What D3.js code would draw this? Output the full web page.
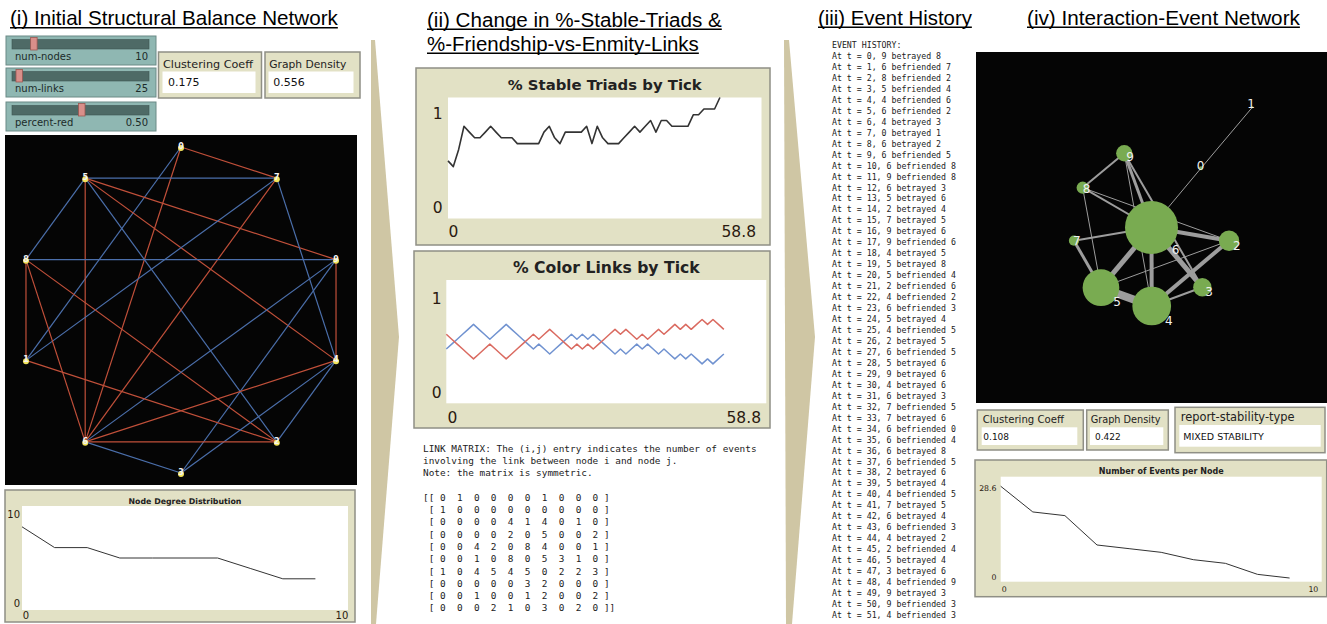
<!DOCTYPE html>
<html><head><meta charset="utf-8">
<script src="https://cdn.jsdelivr.net/npm/d3@7"></script>
<style>body{margin:0;background:#fff} svg{display:block}</style>
</head><body><svg id="c" width="1327" height="624"></svg>
<script>
// ---------------- DATA ----------------
const panelTitles = ['(i) Initial Structural Balance Network', '(ii) Change in %-Stable-Triads &', '%-Friendship-vs-Enmity-Links', '(iii) Event History', '(iv) Interaction-Event Network'];
const nodeIds = [0,1,2,3,4,5,6,7,8,9];
const circleOrder = [0,7,9,4,2,3,6,1,8,5];
const linkA =    [0,0,0,5,5,5,5,4,2,6,4,1,8,1,6,2,4,6,3,1,4,3,2,2,3];
const linkB =    [7,1,6,7,8,6,9,5,5,7,7,7,9,8,8,8,9,9,9,2,6,4,4,6,6];
const linkSign = ['R','B','R','B','B','R','R','R','B','R','B','B','B','R','R','R','R','B','B','R','R','B','B','R','B'];
const sliderNames = ['num-nodes','num-links','percent-red'];
const sliderValues = ['10','25','0.50'];
const sliderFrac = [0.14, 0.03, 0.50];
const monitorNames = ['Clustering Coeff','Graph Density'];
const initialMonitorValues = ['0.175','0.556'];
const finalMonitorValues = ['0.108','0.422'];
const stabilityLabel = 'report-stability-type';
const stabilityValue = 'MIXED STABILITY';
const degreeDist = [8,6,6,5,5,5,5,4,3,3];
const stableTriads = [0.476,0.429,0.571,0.762,0.714,0.667,0.667,0.714,0.762,0.714,
  0.667,0.667,0.667,0.619,0.619,0.619,0.619,0.619,0.714,0.762,
  0.667,0.619,0.714,0.714,0.714,0.714,0.762,0.619,0.762,0.667,
  0.619,0.619,0.619,0.667,0.714,0.762,0.714,0.762,0.810,0.714,
  0.810,0.810,0.762,0.762,0.762,0.762,0.857,0.857,0.905,0.905,
  0.905,1.0];
const pctRed = [0.56,0.52,0.48,0.44,0.40,0.36,0.40,0.44,0.48,0.44,
  0.40,0.36,0.40,0.44,0.48,0.52,0.56,0.52,0.56,0.60,
  0.56,0.52,0.48,0.44,0.48,0.44,0.48,0.44,0.48,0.52,
  0.56,0.60,0.56,0.60,0.56,0.52,0.56,0.52,0.56,0.60,
  0.56,0.60,0.64,0.60,0.64,0.60,0.64,0.68,0.64,0.68,
  0.64,0.60];
const pctBlue = [0.44,0.48,0.52,0.56,0.60,0.64,0.60,0.56,0.52,0.56,
  0.60,0.64,0.60,0.56,0.52,0.48,0.44,0.48,0.44,0.40,
  0.44,0.48,0.52,0.56,0.52,0.56,0.52,0.56,0.52,0.48,
  0.44,0.40,0.44,0.40,0.44,0.48,0.44,0.48,0.44,0.40,
  0.44,0.40,0.36,0.40,0.36,0.40,0.36,0.32,0.36,0.32,
  0.36,0.40];
const plotTitles = ['Node Degree Distribution','% Stable Triads by Tick','% Color Links by Tick','Number of Events per Node'];
const matrixNote = ['LINK MATRIX: The (i,j) entry indicates the number of events','involving the link between node i and node j.','Note: the matrix is symmetric.'];
const linkMatrix = [
  [0,1,0,0,0,0,1,0,0,0],
  [1,0,0,0,0,0,0,0,0,0],
  [0,0,0,0,4,1,4,0,1,0],
  [0,0,0,0,2,0,5,0,0,2],
  [0,0,4,2,0,8,4,0,0,1],
  [0,0,1,0,8,0,5,3,1,0],
  [1,0,4,5,4,5,0,2,2,3],
  [0,0,0,0,0,3,2,0,0,0],
  [0,0,1,0,0,1,2,0,0,2],
  [0,0,0,2,1,0,3,0,2,0]];
const eventActor  = [9,6,8,5,4,6,4,0,6,6,6,9,6,5,2,7,9,9,4,5,5,2,4,6,5,4,2,6,5,9,4,6,7,7,6,6,6,6,2,5,4,7,6,6,4,2,5,3,4,9,9,4];
const eventVerb   = ['betrayed','befriended','befriended','befriended','befriended','befriended','betrayed','betrayed','betrayed','befriended',
  'befriended','befriended','betrayed','betrayed','betrayed','betrayed','betrayed','befriended','betrayed','betrayed',
  'befriended','befriended','befriended','befriended','betrayed','befriended','betrayed','befriended','betrayed','betrayed',
  'betrayed','betrayed','befriended','betrayed','befriended','befriended','betrayed','befriended','betrayed','betrayed',
  'befriended','betrayed','betrayed','befriended','betrayed','befriended','betrayed','betrayed','befriended','betrayed',
  'befriended','befriended'];
const eventTarget = [8,7,2,4,6,2,3,1,2,5,8,8,3,6,4,5,6,6,5,8,4,6,2,3,4,5,5,5,6,6,6,3,5,6,0,4,8,5,6,4,5,5,4,3,2,4,4,6,9,3,3,3];
// interaction network layout (world units, NetLogo patch coordinates)
const layoutX = [4.65, 9.48, 7.29, 4.78, 0.02, -4.75, 0.0, -7.29, -6.47, -2.56];
const layoutY = [5.57, 11.30, -1.24, -5.62, -7.38, -5.66, 0.0, -1.24, 3.74, 6.98];
const eventsPerNodeSorted = [26,19,18,10,9,8,6,5,2,1];

// ---------------- DRAWING ----------------
const svg = d3.select('#c');
const SANS = 'DejaVu Sans', MONO = 'DejaVu Sans Mono', ARIAL = 'Liberation Sans, Arial, sans-serif';
const BEIGE = '#e2e1c5', BEIGE_STROKE = '#8f8f85';

function fit(sel, w) {
  const l = sel.node().getComputedTextLength();
  if (l > 0) sel.attr('font-size', parseFloat(sel.attr('font-size')) * w / l);
  return sel;
}
function text(g, x, y, s, fs, opts = {}) {
  const t = g.append('text').attr('x', x).attr('y', y).text(s)
    .attr('font-family', opts.family || SANS).attr('font-size', fs)
    .attr('fill', opts.fill || '#111');
  if (opts.anchor) t.attr('text-anchor', opts.anchor);
  if (opts.weight) t.attr('font-weight', opts.weight);
  if (opts.w) fit(t, opts.w);
  return t;
}

svg.append('rect').attr('width', 1327).attr('height', 624).attr('fill', '#fff');

// separators (chevrons)
const sepPolys = [
  [[371,40],[375,40],[399,337],[376,624],[371,624]],
  [[784,40],[789,40],[815,337],[792,624],[786,624]]
];
svg.selectAll('.sep').data(sepPolys).join('polygon').attr('class','sep')
  .attr('points', d => d.map(p => p.join(',')).join(' '))
  .attr('fill', '#cfc6a4');

// titles
const titleLayout = [[10,25,328],[427,26.5,295],[427,50.5,272],[818,24.5,154],[1027,24.5,273]];
panelTitles.forEach((s, i) => {
  const [x, y, w] = titleLayout[i];
  const t = text(svg, x, y, s, 20, {family: ARIAL, w: w, fill: '#000'});
  const L = t.node().getComputedTextLength();
  svg.append('line').attr('x1', x).attr('x2', x + L).attr('y1', y + 2.8).attr('y2', y + 2.8)
    .attr('stroke', '#000').attr('stroke-width', 1.6);
});

// ---------- Panel (i) ----------
const sliderY = [36, 68, 102];
sliderNames.forEach((nm, i) => {
  const y0 = sliderY[i];
  const g = svg.append('g');
  g.append('rect').attr('x', 6).attr('y', y0).attr('width', 150).attr('height', 29)
    .attr('fill', '#8fb7b2').attr('stroke', '#6b8a86').attr('stroke-width', 1);
  g.append('rect').attr('x', 12).attr('y', y0 + 3.5).attr('width', 137).attr('height', 9.5)
    .attr('fill', '#4e6a66').attr('stroke', '#3e5652').attr('stroke-width', 0.6);
  const hx = d3.scaleLinear().domain([0, 1]).range([12, 145])(sliderFrac[i]);
  g.append('rect').attr('x', hx).attr('y', y0 + 1.5).attr('width', 6.5).attr('height', 12.5)
    .attr('fill', '#d98f8a').attr('stroke', '#9b5752').attr('stroke-width', 0.8);
  text(g, 15, y0 + 24, nm, 10, {family: SANS, fill: '#1c2b29'});
  text(g, 148, y0 + 24, sliderValues[i], 10, {family: SANS, anchor: 'end', fill: '#1c2b29'});
});

function monitor(box, label, labelW, field, value, fs, labelOff, valOff) {
  const g = svg.append('g');
  g.append('rect').attr('x', box[0]).attr('y', box[1]).attr('width', box[2]).attr('height', box[3])
    .attr('fill', BEIGE).attr('stroke', BEIGE_STROKE).attr('stroke-width', 1.5);
  g.append('rect').attr('x', field[0]).attr('y', field[1]).attr('width', field[2]).attr('height', field[3])
    .attr('fill', '#fff');
  text(g, box[0] + labelOff[0], box[1] + labelOff[1], label, fs, {w: labelW, fill: '#222'});
  text(g, field[0] + valOff[0], field[1] + valOff[1], value, fs, {fill: '#111'});
}
monitor([158.5, 52, 103, 46], monitorNames[0], 90, [162.5, 71.5, 93, 21.5], initialMonitorValues[0], 11, [4.5, 15.5], [5.5, 14.5]);
monitor([265, 52, 95, 46], monitorNames[1], 77, [268.5, 71.5, 85, 21.5], initialMonitorValues[1], 11, [4.3, 15.5], [4.8, 14.5]);

// initial network
svg.append('rect').attr('x', 5).attr('y', 135).attr('width', 352).attr('height', 350).attr('fill', '#050505');
const ang = d3.scaleLinear().domain([0, nodeIds.length]).range([0, 2 * Math.PI]);
const rad = d3.scaleLinear().domain([0, 1]).range([0, 163]);
const pos1 = {};
circleOrder.forEach((id, i) => { pos1[id] = [181 + rad(1) * Math.sin(ang(i)), 310 - rad(1) * Math.cos(ang(i))]; });
const signColor = d3.scaleOrdinal().domain(['R', 'B']).range(['#c1503a', '#4b6fab']);
svg.append('g').selectAll('line').data(linkA.map((a, i) => ({a, b: linkB[i], s: linkSign[i]})))
  .join('line')
  .attr('x1', d => pos1[d.a][0]).attr('y1', d => pos1[d.a][1])
  .attr('x2', d => pos1[d.b][0]).attr('y2', d => pos1[d.b][1])
  .attr('stroke', d => signColor(d.s)).attr('stroke-width', 1.2);
const n1 = svg.append('g').selectAll('g').data(nodeIds).join('g');
n1.append('circle').attr('cx', d => pos1[d][0]).attr('cy', d => pos1[d][1] + 1).attr('r', 3)
  .attr('fill', '#f2e45c');
n1.append('text').attr('x', d => pos1[d][0]).attr('y', d => pos1[d][1] + 2).text(d => d)
  .attr('text-anchor', 'middle').attr('font-family', SANS).attr('font-size', 8).attr('font-weight', 'bold')
  .attr('fill', '#f4f4f4');

function plot(cfg) {
  const g = svg.append('g');
  const [bx, by, bw, bh] = cfg.box, [ix, iy, iw, ih] = cfg.inner;
  g.append('rect').attr('x', bx).attr('y', by).attr('width', bw).attr('height', bh)
    .attr('fill', BEIGE).attr('stroke', BEIGE_STROKE).attr('stroke-width', 1.5);
  g.append('rect').attr('x', ix).attr('y', iy).attr('width', iw).attr('height', ih).attr('fill', '#fff');
  const x = d3.scaleLinear().domain([0, cfg.xMax]).range([ix, ix + iw]);
  const y = d3.scaleLinear().domain([0, cfg.yMax]).range([iy + ih, iy]);
  text(g, ix + iw / 2, cfg.titleBase, cfg.title, 12, {anchor: 'middle', weight: 'bold', w: cfg.titleW, fill: '#222'});
  text(g, cfg.yLblRight, cfg.yMaxBase, cfg.yMaxLbl, cfg.fs, {anchor: 'end', fill: '#2a1a10'});
  text(g, cfg.yLblRight, cfg.yMinBase, '0', cfg.fs, {anchor: 'end', fill: '#2a1a10'});
  text(g, cfg.xMinLeft, cfg.xLblBase, '0', cfg.fs, {fill: '#2a1a10'});
  text(g, cfg.xMaxRight, cfg.xLblBase, cfg.xMaxLbl, cfg.fs, {anchor: 'end', fill: '#2a1a10'});
  cfg.series.forEach(s => {
    g.append('path').datum(s.values)
      .attr('d', d3.line().x((d, i) => x(i)).y(d => y(d)))
      .attr('fill', 'none').attr('stroke', s.color).attr('stroke-width', s.width)
      .attr('stroke-linejoin', 'round');
  });
}

plot({box: [5, 490, 350, 132], inner: [22, 506, 326, 104], title: plotTitles[0], titleW: 113, titleBase: 503.5,
  xMax: 10, yMax: 10, yMaxLbl: '10', xMaxLbl: '10', fs: 10, yLblRight: 20, yMaxBase: 518, yMinBase: 607,
  xMinLeft: 22.7, xMaxRight: 348.3, xLblBase: 619,
  series: [{values: degreeDist, color: '#333', width: 1}]});

// ---------- Panel (ii) ----------
plot({box: [416, 68, 354, 177], inner: [448, 97.5, 313.5, 121], title: plotTitles[1], titleW: 194, titleBase: 89.5,
  xMax: 58.8, yMax: 1, yMaxLbl: '1', xMaxLbl: '58.8', fs: 15.5, yLblRight: 442.5, yMaxBase: 119, yMinBase: 212.5,
  xMinLeft: 448.5, xMaxRight: 756, xLblBase: 236.5,
  series: [{values: stableTriads, color: '#333', width: 1.6}]});
plot({box: [414, 251, 356, 177], inner: [446.3, 280, 320, 123.3], title: plotTitles[2], titleW: 187, titleBase: 273,
  xMax: 58.8, yMax: 1, yMaxLbl: '1', xMaxLbl: '58.8', fs: 15.5, yLblRight: 441.5, yMaxBase: 304, yMinBase: 397.5,
  xMinLeft: 447.5, xMaxRight: 761, xLblBase: 422.5,
  series: [{values: pctBlue, color: '#7092d0', width: 1.5}, {values: pctRed, color: '#da6a60', width: 1.5}]});

// link matrix text
const mg = svg.append('g');
const lineY = d3.scaleLinear().domain([0, 1]).range([451.5, 463.8]);
const first = text(mg, 423, lineY(0), matrixNote[0], 9, {family: MONO, w: 334, fill: '#222'});
const mfs = first.attr('font-size');
matrixNote.slice(1).forEach((s, i) => text(mg, 423, lineY(i + 1), s, mfs, {family: MONO, fill: '#222'}));
linkMatrix.forEach((row, i) => {
  const s = (i === 0 ? '[[' : ' [') + row.map(v => ' ' + v + ' ').join('') + ']' + (i === linkMatrix.length - 1 ? ']' : '');
  text(mg, 423, lineY(i + 4), s, mfs, {family: MONO, fill: '#222'}).attr('xml:space', 'preserve').style('white-space', 'pre');
});

// ---------- Panel (iii) ----------
const eg = svg.append('g');
const evY = d3.scaleLinear().domain([0, 1]).range([59, 69.96]);
const probe = text(eg, -999, -999, 'At t = 10, 6 befriended 8', 8.3, {family: MONO, w: 124});
const efs = probe.attr('font-size');
probe.remove();
text(eg, 832, 48, 'EVENT HISTORY:', efs, {family: MONO, fill: '#222'});
eventActor.forEach((a, t) => {
  text(eg, 832, evY(t), `At t = ${t}, ${a} ${eventVerb[t]} ${eventTarget[t]}`, efs, {family: MONO, fill: '#222'})
    .style('white-space', 'pre');
});

// ---------- Panel (iv) ----------
svg.append('rect').attr('x', 976).attr('y', 52).attr('width', 351).attr('height', 351).attr('fill', '#050505');
const wx = d3.scaleLinear().domain([-16.5, 16.5]).range([976, 1327]);
const wy = d3.scaleLinear().domain([-16.5, 16.5]).range([403, 52]);
const nodeEvents = linkMatrix.map(r => d3.sum(r));
const rScale = d3.scaleLinear().domain([0, 26]).range([0, 26.5]);
const wScale = d3.scaleLinear().domain([0, 8]).range([0, 8]);
const iEdges = [];
linkMatrix.forEach((row, i) => row.forEach((v, j) => { if (j > i && v > 0) iEdges.push({a: i, b: j, v}); }));
const ig = svg.append('g');
ig.selectAll('line').data(iEdges).join('line')
  .attr('x1', d => wx(layoutX[d.a])).attr('y1', d => wy(layoutY[d.a]))
  .attr('x2', d => wx(layoutX[d.b])).attr('y2', d => wy(layoutY[d.b]))
  .attr('stroke', '#9d9d9d').attr('stroke-width', d => wScale(d.v));
ig.selectAll('circle').data(nodeIds).join('circle')
  .attr('cx', d => wx(layoutX[d])).attr('cy', d => wy(layoutY[d])).attr('r', d => rScale(nodeEvents[d]))
  .attr('fill', '#79ab51');
ig.selectAll('text').data(nodeIds).join('text')
  .attr('x', d => wx(layoutX[d]) + rScale(nodeEvents[d]) + 1.5)
  .attr('y', d => wy(layoutY[d]) + rScale(nodeEvents[d]) - 0.5)
  .attr('text-anchor', 'end').attr('font-family', SANS).attr('font-size', 12)
  .attr('fill', '#f2f2f2').text(d => d);

monitor([977.3, 410, 106, 40], monitorNames[0], 81.3, [981.7, 427.3, 95.6, 17.7], finalMonitorValues[0], 9, [5.4, 13], [1.6, 12.7]);
monitor([1086.7, 410, 81.6, 40], monitorNames[1], 70, [1090, 427.3, 73.3, 17.7], finalMonitorValues[1], 9, [4, 13], [5, 12.7]);
monitor([1175, 407.3, 150, 45.4], stabilityLabel, 114, [1179.3, 425, 141.4, 21.7], stabilityValue, 9.5, [5.7, 13.2], [4, 15]);

plot({box: [975, 460, 351.7, 136.7], inner: [1000.7, 476.7, 321, 105], title: plotTitles[3], titleW: 125, titleBase: 473.5,
  xMax: 10, yMax: 28.6, yMaxLbl: '28.6', xMaxLbl: '10', fs: 7.8, yLblRight: 996.5, yMaxBase: 490.5, yMinBase: 579.5,
  xMinLeft: 1001.7, xMaxRight: 1318.3, xLblBase: 591.5,
  series: [{values: eventsPerNodeSorted, color: '#333', width: 1}]});
</script></body></html>
